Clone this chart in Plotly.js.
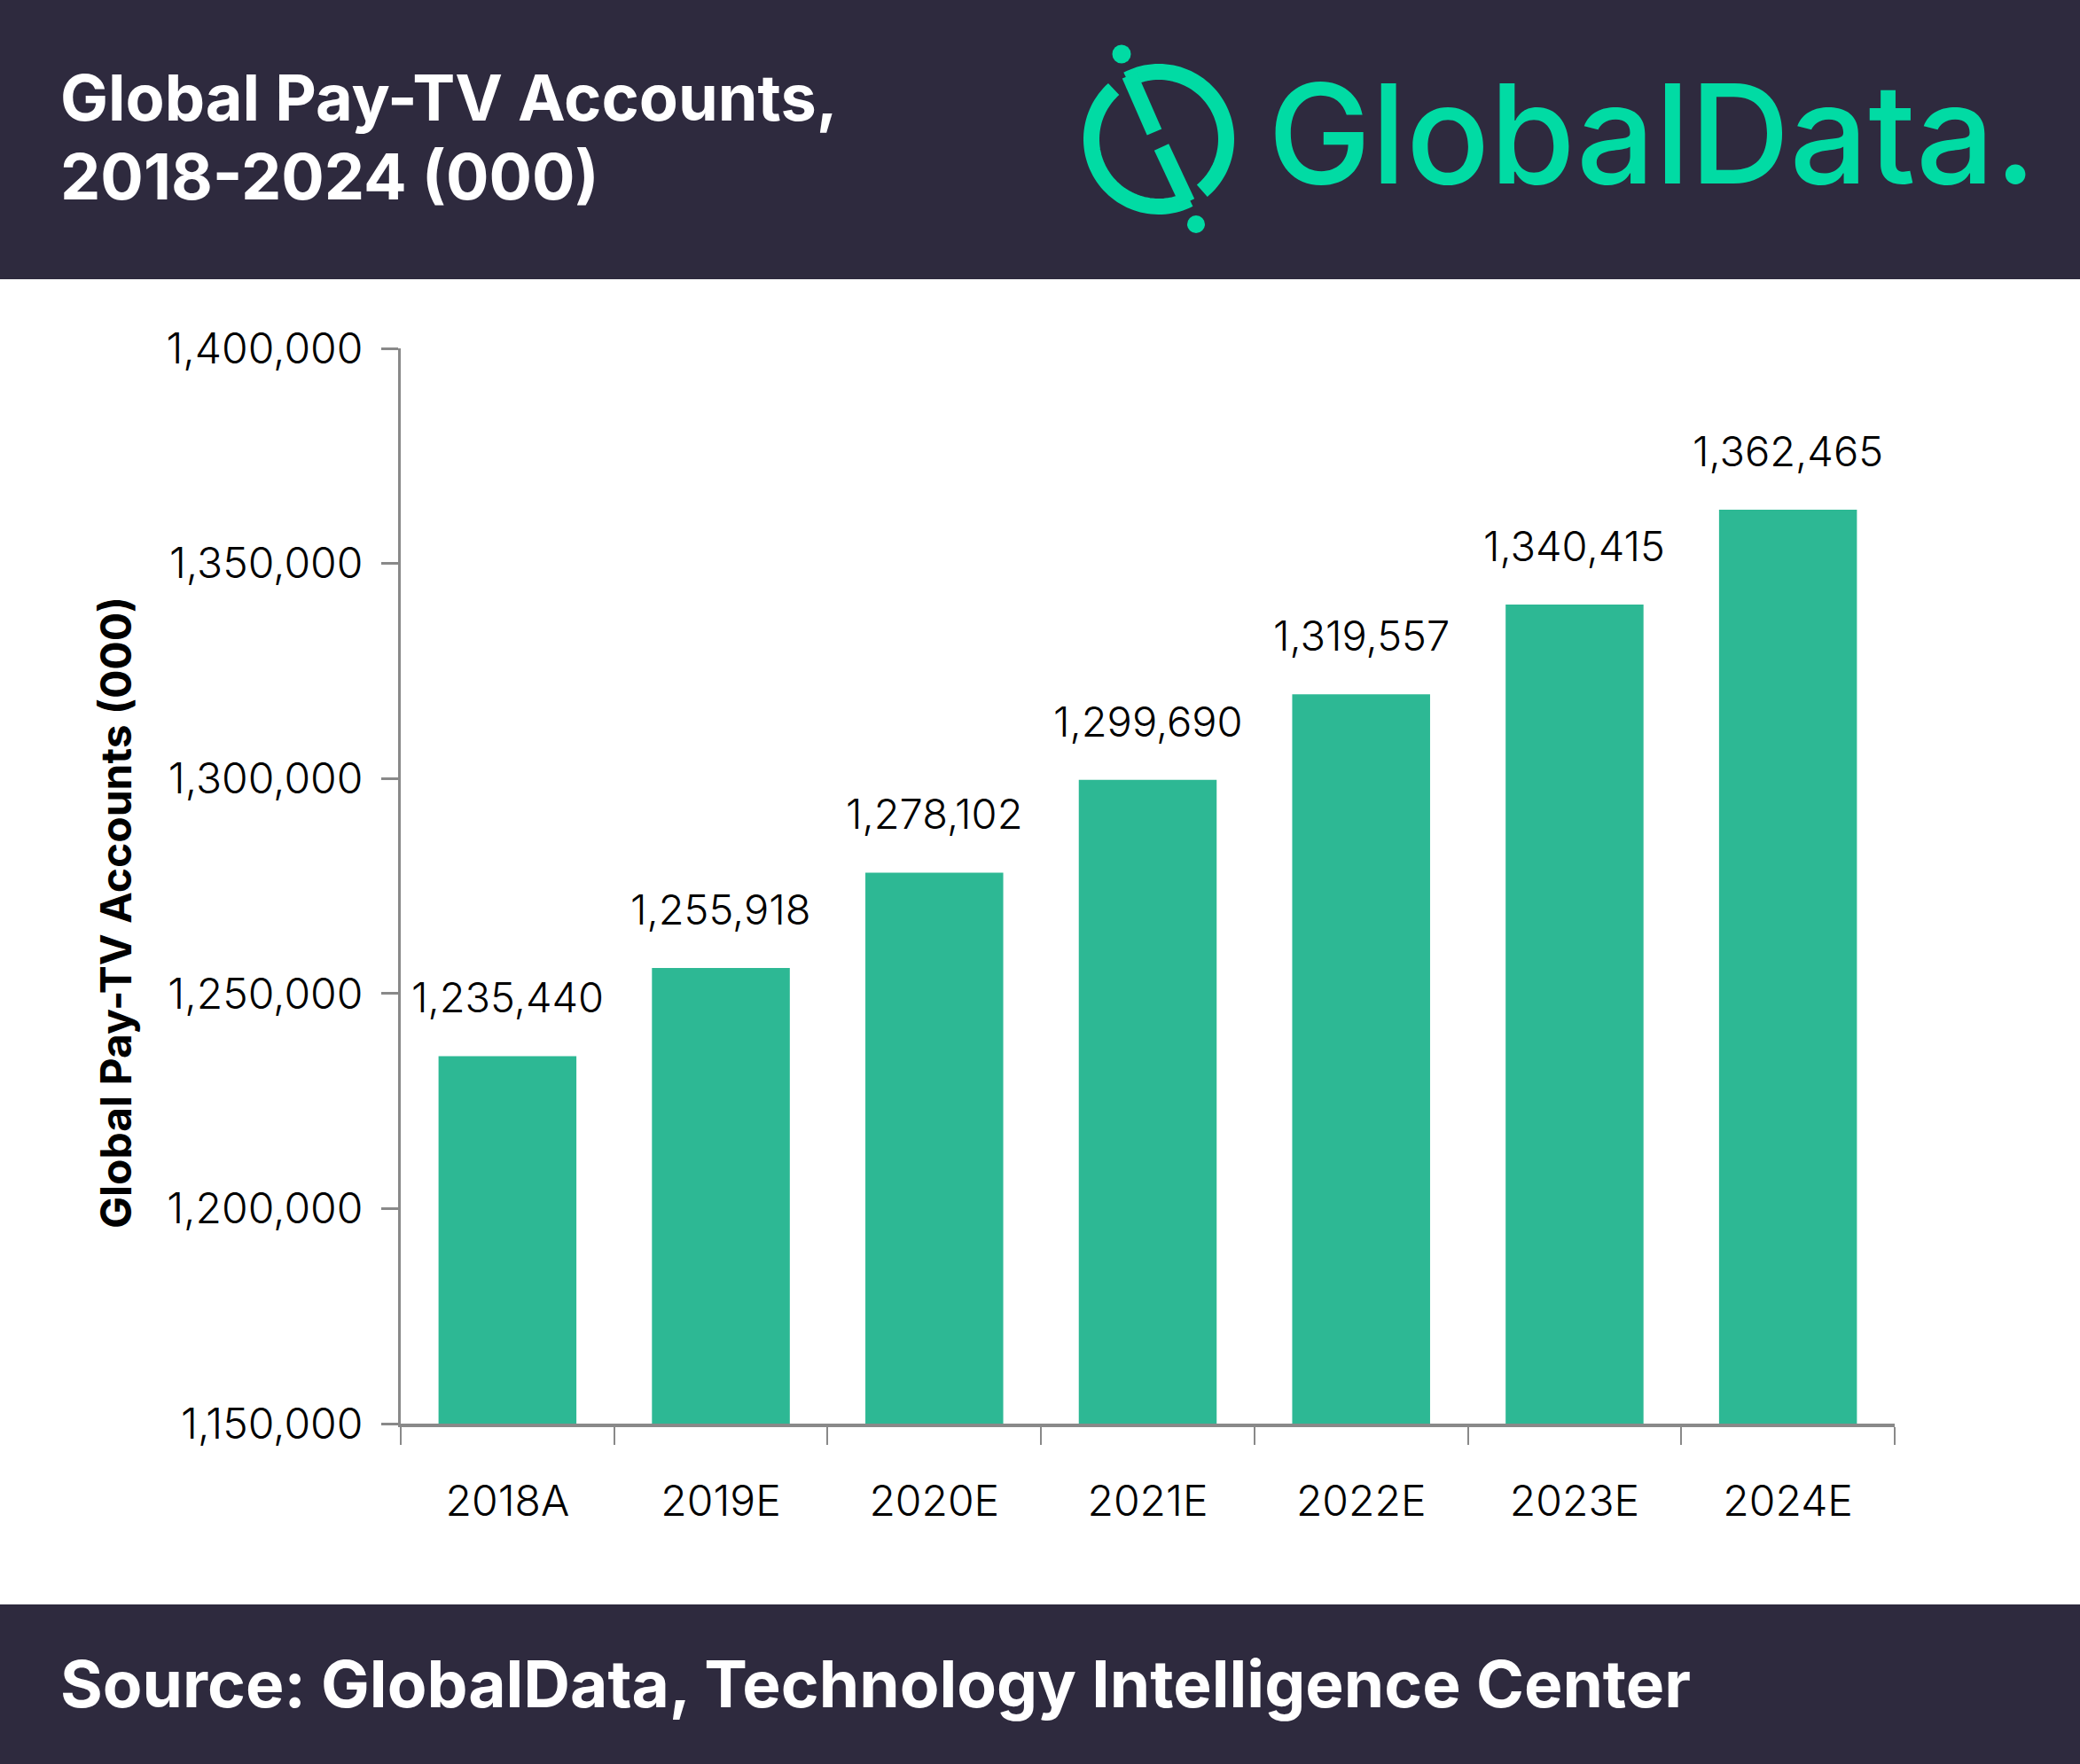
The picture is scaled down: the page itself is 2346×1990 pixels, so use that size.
<!DOCTYPE html>
<html>
<head>
<meta charset="utf-8">
<script src="https://cdn.plot.ly/plotly-3.0.1.min.js"></script>
<style>
  html, body { margin: 0; padding: 0; background: #ffffff; }
  #chart { width: 2346px; height: 1990px; }
</style>
</head>
<body>
<div id="chart"></div>
<script>
// ---- data ----
const categories = ["2018A", "2019E", "2020E", "2021E", "2022E", "2023E", "2024E"];
const accounts = [1235440, 1255918, 1278102, 1299690, 1319557, 1340415, 1362465];
const yTickValues = [1150000, 1200000, 1250000, 1300000, 1350000, 1400000];

const titleLine1 = "Global Pay-TV Accounts,";
const titleLine2 = "2018-2024 (000)";
const yAxisTitle = "Global Pay-TV Accounts (000)";
const sourceText = "Source: GlobalData, Technology Intelligence Center";
const brandText = "GlobalData.";

// ---- geometry helpers (pixel -> paper) ----
const W = 2346, H = 1990;
const M = { l: 452, r: 209, t: 393, b: 384 };
const PW = W - M.l - M.r, PH = H - M.t - M.b;
const px = x => (x - M.l) / PW;
const py = y => (H - M.b - y) / PH;

const DARK = "#2e2a3e";
const BAR = "#2db894";
const BRAND = "#01dba4";
const AXIS = "#898989";
const FONT = "Inter, 'Noto Sans', sans-serif";

function arcPath(cx, cy, r, a0, a1, n) {
  let d = "";
  for (let i = 0; i <= n; i++) {
    const a = (a0 + (a1 - a0) * i / n) * Math.PI / 180;
    const x = cx + r * Math.cos(a), y = cy - r * Math.sin(a);
    d += (i === 0 ? "M" : "L") + px(x).toFixed(5) + "," + py(y).toFixed(5) + " ";
  }
  return d;
}
function circleShape(cx, cy, r, color) {
  return { type: "circle", xref: "paper", yref: "paper",
    x0: px(cx - r), x1: px(cx + r), y0: py(cy + r), y1: py(cy - r),
    fillcolor: color, line: { width: 0 }, layer: "above" };
}
function lineShape(x0, y0, x1, y1, w, color) {
  return { type: "line", xref: "paper", yref: "paper",
    x0: px(x0), y0: py(y0), x1: px(x1), y1: py(y1),
    line: { color: color, width: w }, layer: "above" };
}

const shapes = [
  // header band
  { type: "rect", xref: "paper", yref: "paper", x0: px(0), x1: px(W), y0: py(315), y1: py(0),
    fillcolor: DARK, line: { width: 0 }, layer: "below" },
  // footer band
  { type: "rect", xref: "paper", yref: "paper", x0: px(0), x1: px(W), y0: py(H), y1: py(1810),
    fillcolor: DARK, line: { width: 0 }, layer: "below" },
  // logo icon
  { type: "path", xref: "paper", yref: "paper", path: arcPath(1307, 157, 76, 118, -50, 60),
    line: { color: BRAND, width: 18 }, fillcolor: "rgba(0,0,0,0)", layer: "above" },
  { type: "path", xref: "paper", yref: "paper", path: arcPath(1307, 157, 76, 132, 297, 60),
    line: { color: BRAND, width: 18 }, fillcolor: "rgba(0,0,0,0)", layer: "above" },
  lineShape(1274, 85, 1302, 149, 18, BRAND),
  lineShape(1310, 166, 1339, 228, 18, BRAND),
  circleShape(1265, 61, 10.5, BRAND),
  circleShape(1349, 253, 10, BRAND)
];

const annotations = [
  { text: titleLine1, xref: "paper", yref: "paper", x: px(66), y: py(109), xanchor: "left", yanchor: "middle",
    showarrow: false, font: { family: FONT, size: 72, color: "#ffffff", weight: 700 } },
  { text: titleLine2, xref: "paper", yref: "paper", x: px(66), y: py(199), xanchor: "left", yanchor: "middle",
    showarrow: false, font: { family: FONT, size: 72, color: "#ffffff", weight: 700 } },
  { text: brandText, xref: "paper", yref: "paper", x: px(1428), y: py(151), xanchor: "left", yanchor: "middle",
    showarrow: false, font: { family: FONT, size: 156, color: BRAND, weight: 500 } },
  { text: sourceText, xref: "paper", yref: "paper", x: px(66), y: py(1899), xanchor: "left", yanchor: "middle",
    showarrow: false, font: { family: FONT, size: 73, color: "#ffffff", weight: 700 } },
  { text: yAxisTitle, xref: "paper", yref: "paper", x: px(130), y: py(1030), xanchor: "center", yanchor: "middle",
    textangle: -90, showarrow: false, font: { family: FONT, size: 48, color: "#000000", weight: 700 } }
];

categories.forEach((c, i) => {
  annotations.push({
    x: c, y: accounts[i], xref: "x", yref: "y",
    text: accounts[i].toLocaleString("en-US"),
    showarrow: false, xanchor: "center", yanchor: "bottom", yshift: 36,
    font: { family: FONT, size: 47, color: "#000000", weight: 300 }
  });
});

const trace = {
  type: "bar",
  x: categories,
  y: accounts,
  marker: { color: BAR, line: { width: 0 } },
  hoverinfo: "skip"
};

const layout = {
  width: W, height: H,
  margin: M,
  paper_bgcolor: "#ffffff",
  plot_bgcolor: "#ffffff",
  showlegend: false,
  bargap: 0.354,
  font: { family: FONT, color: "#000000" },
  xaxis: {
    type: "category",
    tickson: "boundaries",
    ticks: "outside", ticklen: 20, tickwidth: 2, tickcolor: AXIS,
    showline: true, linewidth: 4, linecolor: AXIS,
    showgrid: false, zeroline: false,
    tickfont: { family: FONT, size: 48, color: "#000000", weight: 300 },
    ticklabelstandoff: 42,
    fixedrange: true
  },
  yaxis: {
    range: [1150000, 1400000],
    tickmode: "array",
    tickvals: yTickValues,
    ticktext: yTickValues.map(v => v.toLocaleString("en-US")),
    ticks: "outside", ticklen: 19, tickwidth: 3, tickcolor: AXIS,
    showline: true, linewidth: 3, linecolor: AXIS,
    showgrid: false, zeroline: false,
    tickfont: { family: FONT, size: 48, color: "#000000", weight: 300 },
    ticklabelstandoff: 11,
    fixedrange: true
  },
  shapes: shapes,
  annotations: annotations
};

Plotly.newPlot("chart", [trace], layout, { staticPlot: true, displayModeBar: false });
</script>
</body>
</html>
